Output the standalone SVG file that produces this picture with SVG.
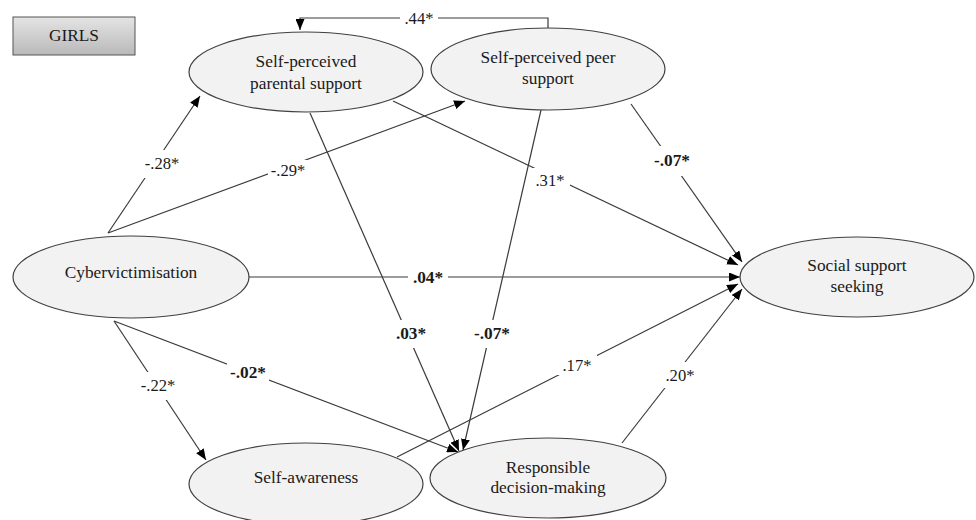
<svg xmlns="http://www.w3.org/2000/svg" width="976" height="520" viewBox="0 0 976 520">
<style>
.node{fill:#f2f2f2;stroke:#404040;stroke-width:1.2}
.t{font-family:"Liberation Serif","Times New Roman",serif;font-size:17.3px;fill:#1a1a1a;text-anchor:middle}
.l{font-family:"Liberation Serif","Times New Roman",serif;font-size:16.6px;fill:#1a1a1a;text-anchor:middle}
.b{font-weight:bold;font-size:17.3px}
.e{stroke:#3a3a3a;stroke-width:1.2;fill:none;marker-end:url(#ah)}
.bg{fill:#ffffff}
</style>
<defs>
<marker id="ah" markerUnits="userSpaceOnUse" markerWidth="11" markerHeight="9" refX="11" refY="4.5" orient="auto">
<path d="M0,0 L11,4.5 L0,9 z" fill="#000"/>
</marker>
<linearGradient id="gg" x1="0" y1="0" x2="0" y2="1">
<stop offset="0" stop-color="#e4e4e4"/>
<stop offset="1" stop-color="#b9b9b9"/>
</linearGradient>
</defs>
<g id="legend">
<rect x="13" y="17" width="122" height="38" fill="url(#gg)" stroke="#555" stroke-width="1"/>
<text class="t" x="74" y="41">GIRLS</text>
</g>
<g id="connectors">
<path class="e" d="M548,28 L548,18 L300,18 L300,30"/>
<line class="e" x1="108" y1="233" x2="200" y2="96"/>
<line class="e" x1="108" y1="233" x2="465" y2="101"/>
<line class="e" x1="393" y1="101" x2="738" y2="265"/>
<line class="e" x1="631" y1="104" x2="742" y2="262"/>
<line class="e" x1="249" y1="277" x2="740" y2="277"/>
<line class="e" x1="310" y1="113" x2="459" y2="451"/>
<line class="e" x1="541" y1="110" x2="463" y2="450"/>
<line class="e" x1="114" y1="321" x2="206" y2="460"/>
<line class="e" x1="114" y1="321" x2="458" y2="452"/>
<line class="e" x1="397" y1="457" x2="738" y2="284"/>
<line class="e" x1="622" y1="443" x2="742" y2="289"/>
<rect class="bg" x="400" y="9" width="38" height="18"/>
<text class="l" x="419" y="24">.44*</text>
<rect class="bg" x="142" y="150" width="40" height="28"/>
<text class="l" x="162" y="169">-.28*</text>
<rect class="bg" x="268" y="160" width="40" height="20"/>
<text class="l" x="288" y="176">-.29*</text>
<rect class="bg" x="530" y="168" width="40" height="22"/>
<text class="l" x="550" y="186">.31*</text>
<rect class="bg" x="651" y="146" width="42" height="30"/>
<text class="l b" x="672" y="166">-.07*</text>
<rect class="bg" x="408" y="267" width="40" height="20"/>
<text class="l b" x="428" y="283">.04*</text>
<rect class="bg" x="391" y="320" width="40" height="28"/>
<text class="l b" x="411" y="339">.03*</text>
<rect class="bg" x="471" y="320" width="42" height="28"/>
<text class="l b" x="492" y="339">-.07*</text>
<rect class="bg" x="227" y="362" width="42" height="20"/>
<text class="l b" x="248" y="378">-.02*</text>
<rect class="bg" x="138" y="372" width="40" height="28"/>
<text class="l" x="158" y="391">-.22*</text>
<rect class="bg" x="557" y="355" width="40" height="20"/>
<text class="l" x="577" y="371">.17*</text>
<rect class="bg" x="660" y="362" width="40" height="26"/>
<text class="l" x="680" y="381">.20*</text>
</g>
<g id="parental">
<ellipse class="node" cx="306" cy="72" rx="117" ry="40"/>
<text class="t" x="306" y="67">Self-perceived</text>
<text class="t" x="306" y="89">parental support</text>
</g>
<g id="peer">
<ellipse class="node" cx="548" cy="69" rx="117" ry="41"/>
<text class="t" x="548" y="63">Self-perceived peer</text>
<text class="t" x="548" y="84">support</text>
</g>
<g id="cyber">
<ellipse class="node" cx="131" cy="277" rx="118" ry="41"/>
<text class="t" x="131" y="278">Cybervictimisation</text>
</g>
<g id="social">
<ellipse class="node" cx="857" cy="277" rx="117" ry="40"/>
<text class="t" x="857" y="271">Social support</text>
<text class="t" x="857" y="292">seeking</text>
</g>
<g id="selfawareness">
<ellipse class="node" cx="306" cy="484" rx="117" ry="41"/>
<text class="t" x="306" y="483">Self-awareness</text>
</g>
<g id="responsible">
<ellipse class="node" cx="548" cy="478" rx="118" ry="40"/>
<text class="t" x="548" y="473">Responsible</text>
<text class="t" x="548" y="493">decision-making</text>
</g>
</svg>
